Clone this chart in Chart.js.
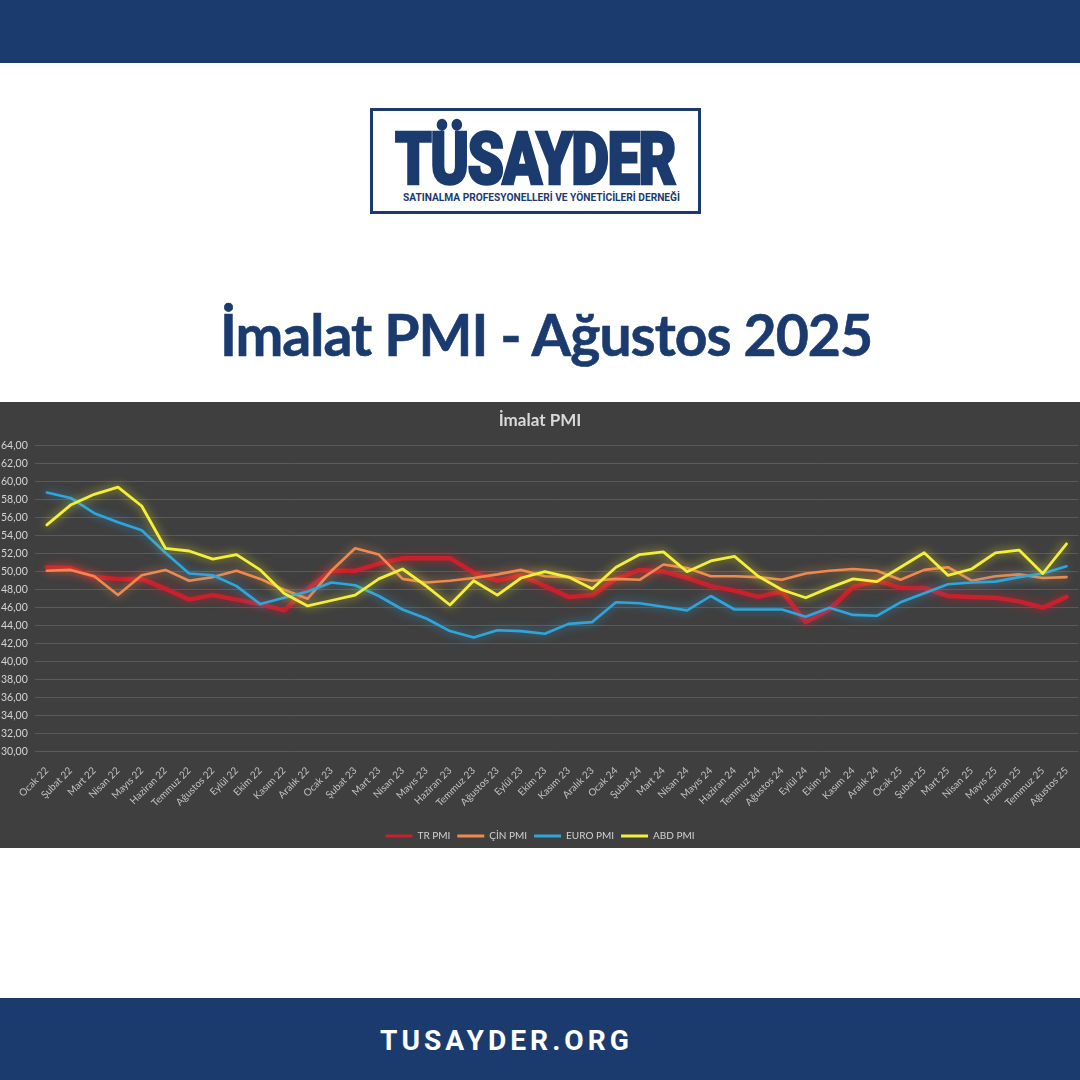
<!DOCTYPE html>
<html lang="tr">
<head>
<meta charset="utf-8">
<title>İmalat PMI - Ağustos 2025</title>
<script src="https://cdn.jsdelivr.net/npm/chart.js@4.4.1/dist/chart.umd.min.js"></script>
<style>
  html, body { margin: 0; padding: 0; }
  body { width: 1080px; height: 1080px; position: relative; overflow: hidden; background: #fff; }
  .band { position: absolute; left: 0; width: 1080px; background: #1b3b6f; }
  #top-band { top: 0; height: 63px; }
  #bottom-band { top: 998px; height: 82px; }
  #logo-box { position: absolute; left: 370px; top: 108px; width: 325px; height: 100px; border: 3px solid #1b3b6f; }
  .fit { position: absolute; white-space: nowrap; line-height: 1; transform-origin: 0 0; }
  #logo-name { left: 22px; top: 6px; font: 900 72px Roboto, sans-serif; color: #1b3b6f; letter-spacing: -2px; -webkit-text-stroke: 2.5px #1b3b6f; }
  #logo-sub { left: 30px; top: 80px; font: 700 11px Roboto, sans-serif; color: #1b3b6f; }
  #page-title { left: 220px; top: 299px; font: 700 58px Lato, sans-serif; color: #1b3b6f; letter-spacing: -1px; -webkit-text-stroke: 0.6px #1b3b6f; }
  #site { left: 380px; top: 1024px; font: 700 28px Roboto, sans-serif; color: #fff; letter-spacing: 4px; }
  #chart-wrap { position: absolute; left: 0; top: 402px; width: 1080px; height: 446px; background: #3f3f3f; overflow: hidden; }
</style>
</head>
<body>
<div class="band" id="top-band"></div>

<div id="logo-box">
  <span class="fit" id="logo-name" data-w="280">TÜSAYDER</span>
  <span class="fit" id="logo-sub" data-w="277">SATINALMA PROFESYONELLERİ VE YÖNETİCİLERİ DERNEĞİ</span>
</div>

<span class="fit" id="page-title" data-w="652">İmalat PMI - Ağustos 2025</span>

<div id="chart-wrap">
  <canvas id="pmi-chart" width="1080" height="446"></canvas>
</div>

<div class="band" id="bottom-band"></div>
<span class="fit" id="site" data-w="253">TUSAYDER.ORG</span>

<script>
'use strict';

let months = ['Ocak 22', 'Şubat 22', 'Mart 22', 'Nisan 22', 'Mayıs 22', 'Haziran 22', 'Temmuz 22', 'Ağustos 22', 'Eylül 22', 'Ekim 22', 'Kasım 22', 'Aralık 22',
  'Ocak 23', 'Şubat 23', 'Mart 23', 'Nisan 23', 'Mayıs 23', 'Haziran 23', 'Temmuz 23', 'Ağustos 23', 'Eylül 23', 'Ekim 23', 'Kasım 23', 'Aralık 23',
  'Ocak 24', 'Şubat 24', 'Mart 24', 'Nisan 24', 'Mayıs 24', 'Haziran 24', 'Temmuz 24', 'Ağustos 24', 'Eylül 24', 'Ekim 24', 'Kasım 24', 'Aralık 24',
  'Ocak 25', 'Şubat 25', 'Mart 25', 'Nisan 25', 'Mayıs 25', 'Haziran 25', 'Temmuz 25', 'Ağustos 25'];

let trPmi = [50.5, 50.4, 49.4, 49.2, 49.2, 48.1, 46.9, 47.4, 46.9, 46.4, 45.7, 48.1,
  50.1, 50.1, 50.9, 51.5, 51.5, 51.5, 49.9, 49.0, 49.6, 48.4, 47.2, 47.4,
  49.2, 50.2, 50.0, 49.3, 48.4, 47.9, 47.2, 47.8, 44.4, 45.8, 48.3, 49.0,
  48.2, 48.2, 47.3, 47.2, 47.1, 46.7, 46.0, 47.2];

let cinPmi = [50.1, 50.2, 49.5, 47.4, 49.6, 50.2, 49.0, 49.4, 50.1, 49.2, 48.0, 47.0,
  50.1, 52.6, 51.9, 49.2, 48.8, 49.0, 49.3, 49.7, 50.2, 49.5, 49.4, 49.0,
  49.2, 49.1, 50.8, 50.4, 49.5, 49.5, 49.4, 49.1, 49.8, 50.1, 50.3, 50.1,
  49.1, 50.2, 50.5, 49.0, 49.5, 49.7, 49.3, 49.4];

let euroPmi = [58.8, 58.2, 56.5, 55.5, 54.6, 52.1, 49.8, 49.6, 48.4, 46.4, 47.1, 47.8,
  48.8, 48.5, 47.3, 45.8, 44.8, 43.4, 42.7, 43.5, 43.4, 43.1, 44.2, 44.4,
  46.6, 46.5, 46.1, 45.7, 47.3, 45.8, 45.8, 45.8, 45.0, 46.0, 45.2, 45.1,
  46.6, 47.6, 48.6, 48.8, 48.9, 49.4, 49.8, 50.6];

let abdPmi = [55.2, 57.4, 58.6, 59.4, 57.3, 52.6, 52.3, 51.4, 51.9, 50.2, 47.6, 46.2,
  46.8, 47.4, 49.2, 50.3, 48.4, 46.3, 49.0, 47.4, 49.3, 50.0, 49.4, 48.1,
  50.5, 51.9, 52.2, 50.0, 51.2, 51.7, 49.5, 48.0, 47.1, 48.2, 49.2, 48.9,
  50.5, 52.1, 49.6, 50.3, 52.1, 52.4, 49.8, 53.1];

let seriesNames = ['TR PMI', 'ÇİN PMI', 'EURO PMI', 'ABD PMI'];
let seriesColors = ['#c8202c', '#ef8a4f', '#2fa5dc', '#f4f03a'];
let glowColors = ['rgba(200,32,44,0.8)', 'rgba(239,138,79,0.75)', 'rgba(47,165,220,0.75)', 'rgba(214,210,40,0.9)'];
let lineWidths = [4.5, 2.6, 2.6, 2.8];

// squeeze the header texts to the widths they have in the picture
let fitEls = document.querySelectorAll('.fit');
for (let i = 0; i < fitEls.length; i++) {
  let el = fitEls[i];
  let w = Number(el.dataset.w);
  el.style.transform = 'scaleX(' + (w / el.getBoundingClientRect().width) + ')';
}

// soft halo around each line, like the Excel glow effect
let glowPlugin = {
  id: 'glow',
  beforeDatasetDraw: function (chart, args) {
    let ctx = chart.ctx;
    ctx.save();
    ctx.shadowColor = glowColors[args.index];
    ctx.shadowBlur = 10;
  },
  afterDatasetDraw: function (chart) {
    chart.ctx.restore();
  }
};

Chart.defaults.font.family = 'Lato, "Open Sans", sans-serif';

let allSeries = [trPmi, cinPmi, euroPmi, abdPmi];
let datasets = [];
for (let i = 0; i < allSeries.length; i++) {
  datasets.push({
    label: seriesNames[i],
    data: allSeries[i],
    borderColor: seriesColors[i],
    backgroundColor: seriesColors[i],
    borderWidth: lineWidths[i],
    pointRadius: 0,
    tension: 0,
    borderJoinStyle: 'round',
    borderCapStyle: 'round',
    order: allSeries.length - i
  });
}

new Chart(document.getElementById('pmi-chart'), { //eslint-disable-line
  type: 'line',
  data: { labels: months, datasets: datasets },
  plugins: [glowPlugin],
  options: {
    responsive: false,
    animation: false,
    devicePixelRatio: 1,
    layout: { padding: { left: 1, right: 1, bottom: -3 } },
    plugins: {
      tooltip: { enabled: false },
      title: {
        display: true,
        text: 'İmalat PMI',
        color: '#d9d9d9',
        font: { size: 17, weight: 'bold' },
        padding: { top: 8, bottom: 15.3 }
      },
      legend: {
        position: 'bottom',
        labels: {
          color: '#d0d0d0',
          font: { size: 10 },
          boxWidth: 27,
          boxHeight: 3,
          padding: 7,
          generateLabels: function (chart) {
            let items = Chart.defaults.plugins.legend.labels.generateLabels(chart); //eslint-disable-line
            items.forEach(function (item) {
              item.lineWidth = 0;
              item.fillStyle = seriesColors[item.datasetIndex];
            });
            items.sort(function (a, b) { return a.datasetIndex - b.datasetIndex; });
            return items;
          }
        }
      }
    },
    scales: {
      x: {
        offset: true,
        grid: { display: false },
        border: { display: false },
        ticks: {
          color: '#c0c0c0',
          font: { size: 10 },
          autoSkip: false,
          maxRotation: 45,
          minRotation: 45,
          padding: 5
        },
        afterFit: function (scale) { scale.height = 72.3; }
      },
      y: {
        min: 30,
        max: 64,
        border: { display: false },
        grid: { color: '#5a5a5a', lineWidth: 1, drawTicks: false },
        ticks: {
          stepSize: 2,
          color: '#d4d4d4',
          font: { size: 10.5 },
          crossAlign: 'far',
          callback: function (value) { return value.toFixed(2).replace('.', ','); }
        },
        afterFit: function (scale) { scale.width = 34; }
      }
    }
  }
});
</script>
</body>
</html>
